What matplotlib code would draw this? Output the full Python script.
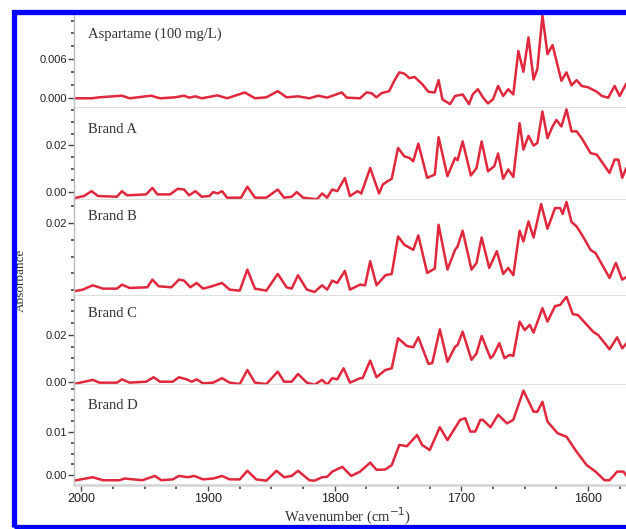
"""
FTIR difference spectra - aspartame standard and four sweetener brands
"""

import matplotlib.pyplot as plt
from matplotlib.patches import Rectangle
from matplotlib.ticker import MultipleLocator, FixedLocator, FixedFormatter

# Data: wavenumber (cm-1) and absorbance
wn_asp = [2006, 1992, 1986, 1968, 1962, 1945, 1938, 1926, 1919, 1915, 1910, 1905,
          1892.5, 1885, 1871, 1863, 1854, 1845, 1838, 1829, 1820, 1813, 1806, 1794.5,
          1790.5, 1780, 1775, 1771, 1767, 1763, 1757, 1753, 1749, 1745, 1741, 1737,
          1731, 1726, 1721, 1718, 1715, 1709, 1705, 1699, 1694, 1691, 1687, 1683,
          1679, 1675, 1671, 1667, 1663, 1659, 1655, 1651, 1647, 1643, 1640, 1636,
          1632, 1628, 1621, 1617, 1613, 1609, 1605, 1600, 1593, 1589, 1584, 1579,
          1575, 1570]
abs_asp = [0.0000, 0.0000, 0.00015, 0.0004, 0.0000, 0.0004, 0.0000, 0.00015, 0.0004, 0.0001,
           0.0003, 0.0000, 0.00045, 0.0000, 0.0009, 0.0000, 0.00015, 0.0011, 0.00015, 0.0003,
           0.0000, 0.0004, 0.0001, 0.0009, 0.0001, 0.0000, 0.0009, 0.0008, 0.00015, 0.0008,
           0.0011, 0.0027, 0.0040, 0.0038, 0.0031, 0.0033, 0.0022, 0.0010, 0.0009, 0.0028,
           -0.00015, -0.0009, 0.00035, 0.0006, -0.0009, 0.0006, 0.0014, 0.00015, -0.0008,
           -0.00015, 0.0019, 0.00035, 0.0014, 0.0006, 0.0073, 0.0041, 0.0094, 0.0029, 0.0045,
           0.0128, 0.0068, 0.0082, 0.0027, 0.0040, 0.0020, 0.0028, 0.0019, 0.0017, 0.0010,
           0.00035, 0.0001, 0.0019, 0.00035, 0.0022]

wn_a = [2006, 2004, 1998, 1992, 1987, 1972, 1968, 1964, 1949, 1944, 1940, 1930, 1924,
        1919, 1915, 1910, 1905, 1899, 1896, 1892.5, 1889, 1885, 1874, 1869, 1863, 1854,
        1845, 1840, 1834, 1830, 1825, 1814, 1810, 1806, 1802, 1798, 1792, 1788, 1782,
        1779, 1772, 1765, 1762, 1758, 1755, 1750, 1745, 1741, 1738, 1734, 1727, 1721,
        1718, 1711, 1705, 1703, 1699, 1692.5, 1688, 1684, 1679, 1674, 1671, 1667, 1663,
        1659, 1654, 1651, 1647, 1643, 1640, 1636, 1632, 1628, 1625, 1621, 1617, 1613,
        1609, 1605, 1598, 1593, 1583, 1579, 1576, 1573, 1570]
abs_a = [-0.0030, -0.0024, -0.0017, 0.0004, -0.0017, -0.0020, 0.0004, -0.0014, -0.0010,
         0.0018, -0.0010, -0.0010, 0.0014, 0.0011, -0.0014, 0.0004, -0.0020, -0.0017, 0.0000,
         -0.0006, 0.0004, -0.0024, -0.0024, 0.0023, -0.0024, -0.0024, 0.0011, -0.0024,
         -0.0020, 0.0000, -0.0024, -0.0031, -0.0006, -0.0024, 0.0011, 0.0004, 0.0060,
         -0.0017, 0.0004, -0.0006, 0.0103, -0.0006, 0.0033, 0.0047, 0.0057, 0.0189, 0.0153,
         0.0146, 0.0132, 0.0207, 0.0061, 0.0075, 0.0235, 0.0068, 0.0146, 0.0136, 0.0217,
         0.0071, 0.0103, 0.0217, 0.0089, 0.0111, 0.0165, 0.0057, 0.0097, 0.0065, 0.0295,
         0.0182, 0.0241, 0.0199, 0.0210, 0.0345, 0.0231, 0.0281, 0.0309, 0.0281, 0.0354,
         0.0260, 0.0260, 0.0231, 0.0167, 0.0160, 0.0082, 0.0139, 0.0139, 0.0061, 0.0100]

wn_b = [2006, 1999, 1991, 1983, 1972, 1968, 1962, 1948, 1944, 1939, 1929, 1923, 1919,
        1914, 1909, 1904, 1897, 1889, 1883, 1875, 1869, 1863, 1854, 1845, 1838, 1834,
        1829, 1822, 1816, 1810, 1806, 1802, 1798, 1792, 1788, 1780, 1776, 1772, 1767,
        1760, 1755, 1750, 1745, 1738, 1734, 1727, 1721, 1718, 1711, 1705, 1703, 1699,
        1692, 1688, 1684, 1678, 1672, 1667, 1663, 1659, 1654, 1651, 1647, 1643, 1637,
        1632, 1626, 1622, 1620, 1617, 1613, 1609, 1604, 1598, 1594, 1583, 1578, 1573,
        1570]
abs_b = [-0.0004, 0.0001, 0.0014, 0.0004, 0.0004, 0.0016, 0.0006, 0.0008, 0.0031, 0.0011,
         0.0008, 0.0031, 0.0028, 0.0008, 0.0021, 0.0004, 0.0011, 0.0021, 0.0001, -0.0002,
         0.0061, 0.0004, -0.0002, 0.0048, 0.0008, 0.0004, 0.0044, 0.0001, -0.0006, 0.0014,
         0.0001, 0.0028, 0.0021, 0.0057, 0.0001, 0.0016, 0.0014, 0.0086, 0.0014, 0.0044,
         0.0048, 0.0160, 0.0135, 0.0120, 0.0163, 0.0051, 0.0064, 0.0195, 0.0061, 0.0120,
         0.0130, 0.0177, 0.0061, 0.0081, 0.0157, 0.0066, 0.0116, 0.0048, 0.0066, 0.0044,
         0.0177, 0.0145, 0.0205, 0.0157, 0.0257, 0.0183, 0.0245, 0.0245, 0.0227, 0.0263,
         0.0203, 0.0190, 0.0160, 0.0120, 0.0110, 0.0036, 0.0081, 0.0031, 0.0038]

wn_c = [2006, 1991, 1986, 1972, 1968, 1962, 1949, 1943, 1938, 1928, 1923, 1917, 1913,
        1909, 1904, 1896, 1889, 1883, 1875, 1869, 1863, 1854, 1845, 1840, 1834, 1829,
        1822, 1816, 1810, 1806, 1802, 1798, 1793, 1788, 1780, 1778, 1772, 1767, 1760,
        1755, 1750, 1743, 1738, 1734, 1726, 1723, 1717, 1711, 1705, 1703, 1699, 1692,
        1688, 1684, 1677, 1675, 1670, 1666, 1662, 1659, 1654, 1650, 1646, 1643, 1636,
        1632, 1626, 1622, 1620, 1617, 1612, 1608, 1596, 1592, 1583, 1577, 1573, 1570]
abs_c = [-0.0009, 0.0009, -0.0003, -0.0003, 0.0011, -0.0003, 0.0001, 0.0020, 0.0001,
         0.0001, 0.0020, 0.0011, 0.0001, 0.0011, -0.0006, -0.0003, 0.0016, -0.0003, -0.0009,
         0.0051, -0.0003, -0.0009, 0.0044, 0.0001, 0.0001, 0.0034, -0.0003, -0.0012, 0.0009,
         -0.0012, 0.0016, 0.0011, 0.0058, -0.0003, 0.0016, 0.0016, 0.0091, 0.0020, 0.0051,
         0.0058, 0.0186, 0.0153, 0.0148, 0.0190, 0.0077, 0.0080, 0.0224, 0.0086, 0.0150,
         0.0157, 0.0214, 0.0094, 0.0122, 0.0196, 0.0101, 0.0111, 0.0165, 0.0101, 0.0115,
         0.0111, 0.0257, 0.0221, 0.0243, 0.0210, 0.0314, 0.0257, 0.0323, 0.0328, 0.0342,
         0.0363, 0.0289, 0.0285, 0.0214, 0.0200, 0.0139, 0.0190, 0.0143, 0.0162]

wn_d = [2006, 1991, 1983, 1970, 1966, 1952, 1942, 1937, 1928, 1923, 1916, 1911, 1904,
        1896, 1889, 1883, 1875, 1869, 1862, 1854, 1846, 1840, 1834, 1829, 1820, 1816,
        1810, 1806, 1802, 1794, 1787, 1780, 1772, 1767, 1760, 1755, 1749, 1743, 1735,
        1731, 1725, 1717, 1711, 1701, 1697, 1693, 1689, 1685, 1683, 1677, 1671, 1664,
        1659, 1651, 1643, 1640, 1636, 1632, 1624, 1617, 1609, 1601, 1594, 1587, 1583,
        1577, 1572, 1570]
abs_d = [-0.0013, -0.0005, -0.0012, -0.0012, -0.0008, -0.0012, -0.0002, -0.0012, -0.0010,
         -0.0002, -0.0005, -0.0002, -0.0010, -0.0008, -0.0002, -0.0010, -0.0010, 0.0010,
         -0.0010, -0.0013, 0.0010, -0.0005, -0.0002, 0.0010, -0.0012, -0.0013, -0.0005,
         -0.0004, 0.0008, 0.0019, -0.0002, 0.0008, 0.0029, 0.0012, 0.0013, 0.0023, 0.0070,
         0.0067, 0.0093, 0.0070, 0.0058, 0.0111, 0.0081, 0.0128, 0.0132, 0.0101, 0.0101,
         0.0128, 0.0128, 0.0111, 0.0140, 0.0120, 0.0128, 0.0196, 0.0147, 0.0147, 0.0170,
         0.0124, 0.0097, 0.0089, 0.0054, 0.0023, 0.0008, -0.0012, -0.0012, 0.0008, 0.0008,
         0.0000]

names = ['Aspartame (100 mg/L)', 'Brand A', 'Brand B', 'Brand C', 'Brand D']
x_ticks = [2000, 1900, 1800, 1700, 1600]

# per-panel axis setup
spectra = [(wn_asp, abs_asp), (wn_a, abs_a), (wn_b, abs_b), (wn_c, abs_c), (wn_d, abs_d)]
ylims = [(-0.0015, 0.0130), (-0.0034, 0.0360), (-0.0018, 0.0269), (-0.0013, 0.0366), (-0.0023, 0.0209)]
yticks = [[0.0, 0.006], [0.0, 0.02], [0.02], [0.0, 0.02], [0.0, 0.01]]
ytick_fmt = ['{:.3f}', '{:.2f}', '{:.2f}', '{:.2f}', '{:.2f}']
yminor = [0.002, 0.005, 0.005, 0.005, 0.0025]
label_y = [0.78, 0.77, 0.83, 0.80, 0.79]

LINE = '#e0283c'
SPINE = '#d4d4d4'
TICKC = '#444444'
SANS = ['Liberation Sans', 'DejaVu Sans']
SERIF = ['Liberation Serif', 'DejaVu Serif']

fig = plt.figure(figsize=(6.26, 5.29), dpi=100)
gs = fig.add_gridspec(5, 1, left=0.118, right=1.0, top=0.9735, bottom=0.0832,
                      hspace=0, height_ratios=[94, 92, 96, 89, 100])

axes = []
for i, (wn, ab) in enumerate(spectra):
    ax = fig.add_subplot(gs[i])
    ax.plot(wn, ab, color=LINE, lw=1.8, solid_joinstyle='round')
    ax.set_xlim(2006, 1570)
    ax.set_ylim(*ylims[i])

    for s in ['top', 'right']:
        ax.spines[s].set_visible(False)
    ax.spines['bottom'].set_color(SPINE)
    ax.spines['bottom'].set_linewidth(1.8)
    ax.spines['left'].set_color('#bbbbbb')
    ax.spines['left'].set_linewidth(1.0)

    ax.yaxis.set_major_locator(FixedLocator(yticks[i]))
    ax.yaxis.set_major_formatter(FixedFormatter([ytick_fmt[i].format(v) for v in yticks[i]]))
    ax.yaxis.set_minor_locator(MultipleLocator(yminor[i]))
    ax.tick_params(axis='y', which='major', length=4, width=1, color=TICKC,
                   labelsize=8, pad=1, labelcolor='#222222')
    ax.tick_params(axis='y', which='minor', length=2, width=1.2, color=TICKC)
    for lab in ax.get_yticklabels():
        lab.set_family(SANS)

    ax.xaxis.set_major_locator(FixedLocator(x_ticks))
    ax.xaxis.set_minor_locator(MultipleLocator(25))
    if i < 4:
        ax.tick_params(axis='x', which='both', length=0, labelbottom=False)
    else:
        ax.tick_params(axis='x', which='major', length=4, width=1, color=TICKC,
                       labelsize=9, pad=2, labelcolor='#222222')
        ax.tick_params(axis='x', which='minor', length=3, width=1.2, color=TICKC)
        for lab in ax.get_xticklabels():
            lab.set_family(SANS)

    ax.text(0.026, label_y[i], names[i], transform=ax.transAxes, fontsize=10.5,
            family=SERIF, color='#333333', va='center', ha='left')
    axes.append(ax)

fig.text(0.033, 0.47, 'Absorbance', rotation=90, family=SERIF, fontsize=9.5,
         color='#333333', ha='center', va='center')
fig.text(0.555, 0.043, 'Wavenumber (cm$^{-1}$)', family=SERIF, fontsize=10.5,
         color='#333333', ha='center', va='top')

# blue frame round the whole picture
frame = Rectangle((0.0216, 0.0038), 1.2, 0.9726, transform=fig.transFigure,
                  fill=False, edgecolor='#0000ff', lw=3.8, zorder=10)
fig.patches.append(frame)

fig.savefig('out.png', dpi=100)
